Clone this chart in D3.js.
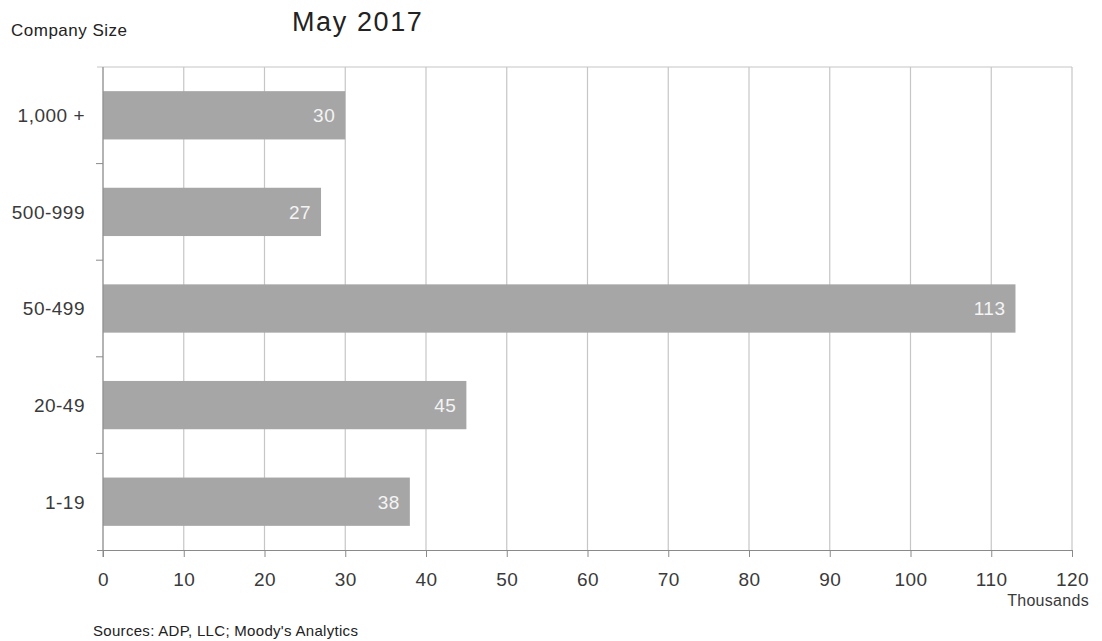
<!DOCTYPE html>
<html>
<head>
<meta charset="utf-8">
<script src="https://cdn.jsdelivr.net/npm/d3@7"></script>
<style>
  html, body { margin: 0; padding: 0; background: #fff; }
  svg { display: block; font-family: "Liberation Sans", Arial, sans-serif; }
</style>
</head>
<body>
<svg id="chart" width="1102" height="641"></svg>
<script>
// Job gains by company size, May 2017 (thousands)
const categories = ["1,000 +", "500-999", "50-499", "20-49", "1-19"];
const values = [30, 27, 113, 45, 38];
const xTicks = [0, 10, 20, 30, 40, 50, 60, 70, 80, 90, 100, 110, 120];

const svg = d3.select("#chart");
const plot = { left: 103, right: 1072, top: 67, bottom: 550 };
const labelFont = 19;
const textColor = "#3a3a3a";

const x = d3.scaleLinear().domain([0, 120]).range([plot.left, plot.right]);
const y = d3.scaleBand().domain(categories).range([plot.top, plot.bottom]).paddingInner(0.5).paddingOuter(0.25);
const yBand = d3.scaleBand().domain(categories).range([plot.top, plot.bottom]);

// vertical grid lines
svg.append("g").selectAll("line").data(xTicks).join("line")
  .attr("x1", d => x(d)).attr("x2", d => x(d))
  .attr("y1", plot.top).attr("y2", plot.bottom)
  .attr("stroke", "#c6c6c6").attr("stroke-width", 1.2);

// top border
svg.append("line")
  .attr("x1", plot.left - 6).attr("x2", plot.right)
  .attr("y1", plot.top).attr("y2", plot.top)
  .attr("stroke", "#c6c6c6").attr("stroke-width", 1.2);

// bars
svg.append("g").selectAll("rect").data(categories).join("rect")
  .attr("x", x(0))
  .attr("y", d => y(d))
  .attr("width", (d, i) => x(values[i]) - x(0))
  .attr("height", y.bandwidth())
  .attr("fill", "#a6a6a6");

// value labels
svg.append("g").selectAll("text").data(categories).join("text")
  .attr("x", (d, i) => x(values[i]) - 10)
  .attr("y", d => y(d) + y.bandwidth() / 2)
  .attr("dy", "0.36em")
  .attr("text-anchor", "end")
  .attr("fill", "#f4f4f4")
  .attr("font-size", labelFont)
  .attr("letter-spacing", 0.5)
  .text((d, i) => values[i]);

// x axis
const xAxis = svg.append("g")
  .attr("transform", `translate(0,${plot.bottom})`)
  .call(d3.axisBottom(x).tickValues(xTicks).tickSize(7).tickPadding(16).tickFormat(d3.format("d")));
xAxis.select(".domain").attr("stroke", "#8a8a8a").attr("d", `M${plot.left - 6},0.5H${plot.right}`);
xAxis.selectAll(".tick line").attr("stroke", "#8a8a8a");
xAxis.selectAll(".tick text")
  .attr("font-size", labelFont).attr("fill", textColor).attr("letter-spacing", 0.5)
  .attr("font-family", "Liberation Sans, Arial, sans-serif");

// y axis: line plus ticks at category boundaries
svg.append("line")
  .attr("x1", plot.left).attr("x2", plot.left)
  .attr("y1", plot.top).attr("y2", plot.bottom + 7)
  .attr("stroke", "#8a8a8a");
svg.append("g").selectAll("line").data(categories.slice(1)).join("line")
  .attr("x1", plot.left - 7).attr("x2", plot.left)
  .attr("y1", d => yBand(d)).attr("y2", d => yBand(d))
  .attr("stroke", "#8a8a8a");

// category labels
svg.append("g").selectAll("text").data(categories).join("text")
  .attr("x", plot.left - 18)
  .attr("y", d => y(d) + y.bandwidth() / 2)
  .attr("dy", "0.36em")
  .attr("text-anchor", "end")
  .attr("font-size", labelFont)
  .attr("letter-spacing", 0.5)
  .attr("fill", textColor)
  .text(d => d);

// titles and notes
svg.append("text").attr("x", 11).attr("y", 36).attr("font-size", 17).attr("letter-spacing", 0.5)
  .attr("fill", "#222").text("Company Size");
svg.append("text").attr("x", 292).attr("y", 31).attr("font-size", 27).attr("letter-spacing", 1.6)
  .attr("fill", "#222").text("May 2017");
svg.append("text").attr("x", 1089).attr("y", 606).attr("text-anchor", "end").attr("font-size", 16)
  .attr("letter-spacing", 0.3).attr("fill", textColor).text("Thousands");
svg.append("text").attr("x", 93).attr("y", 636).attr("font-size", 15).attr("letter-spacing", 0.3)
  .attr("fill", "#222").text("Sources: ADP, LLC; Moody's Analytics");
</script>
</body>
</html>
